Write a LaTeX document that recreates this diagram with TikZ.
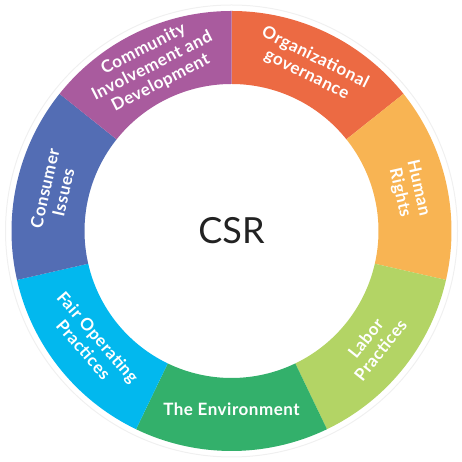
\documentclass[tikz,border=0pt]{standalone}
\usepackage{fontspec}
\setmainfont{Lato}
\newfontfamily\labfont{Lato}[UprightFont=* Bold, LetterSpace=3]
\definecolor{cOrg}{HTML}{EC6A43}
\definecolor{cHum}{HTML}{F8B453}
\definecolor{cLab}{HTML}{B3D465}
\definecolor{cEnv}{HTML}{33B06B}
\definecolor{cFair}{HTML}{02B8EE}
\definecolor{cCons}{HTML}{536DB4}
\definecolor{cComm}{HTML}{A95B9E}
\definecolor{cText}{HTML}{222222}
\tikzset{
  seglabel/.style={text=white, font=\labfont\fontsize{17}{19}\selectfont, align=center, inner sep=0pt},
}
\newcommand{\ringseg}[3]{%
  \fill[#3] (#1:220) arc[start angle=#1, end angle=#2, radius=220] -- (#2:147) arc[start angle=#2, end angle=#1, radius=147] -- cycle;}
\begin{document}
\begin{tikzpicture}[x=1pt,y=1pt]
\useasboundingbox (0,0) rectangle (462,462);
\begin{scope}[shift={(231.5,231)}]
  \draw[black!6, line width=1pt] (0,0) circle[radius=226];
  \ringseg{38.571}{90}{cOrg}
  \ringseg{-12.857}{38.571}{cHum}
  \ringseg{-64.286}{-12.857}{cLab}
  \ringseg{-115.714}{-64.286}{cEnv}
  \ringseg{-167.143}{-115.714}{cFair}
  \ringseg{141.429}{192.857}{cCons}
  \ringseg{90}{141.429}{cComm}
  \node[text=cText, font=\fontsize{36}{40}\selectfont, inner sep=0pt] (csr) at (0,0) {CSR};
  \node[seglabel, rotate=-26.5] (org) at (64.286:183) {Organizational\\governance};
  \node[seglabel, rotate=-77.143] (hum) at (12.857:182) {Human\\Rights};
  \node[seglabel, rotate=51.429] (lab) at (-38.571:181) {Labor\\Practices};
  \node[seglabel] (env) at (-90:178) {The Environment};
  \node[seglabel, rotate=-49] (fair) at (-141.429:180) {Fair Operating\\Practices};
  \node[seglabel, rotate=77.143] (cons) at (167.143:182) {Consumer\\Issues};
  \node[seglabel, rotate=27] (comm) at (115.714:183) {Community\\Involvement and\\Development};
\end{scope}
\end{tikzpicture}
\end{document}
